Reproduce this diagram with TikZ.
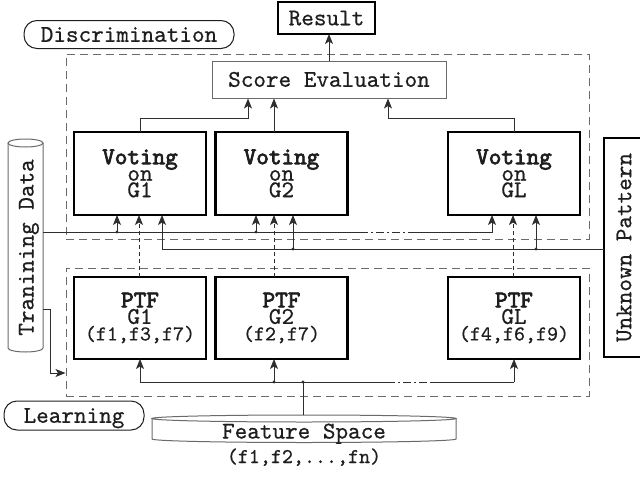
\documentclass[tikz,border=0pt]{standalone}
\usepackage{fontspec}
\setmainfont{lmmono10-regular.otf}[
  UprightFeatures={FakeBold=0.6},
  BoldFont=lmmono10-regular.otf,
  BoldFeatures={FakeBold=3}]
\usetikzlibrary{arrows.meta,calc}
\definecolor{ink}{HTML}{1E1E1E}
\definecolor{wiregray}{HTML}{2E2E2E}
\definecolor{framegray}{HTML}{6A6A6A}

\begin{document}
\begin{tikzpicture}[x=1pt,y=-1pt,
  every node/.style={text=ink},
  big/.style={font=\fontsize{24}{16.5}\selectfont},
  small/.style={font=\fontsize{21}{16.5}\selectfont},
  heavybox/.style={draw=black,line width=2.4pt,inner sep=0pt,outer sep=0pt,align=center,big},
  unitbox/.style={heavybox,minimum width=132pt,minimum height=83pt},
  oneline/.style={text height=14.5pt,text depth=0pt},
  tag/.style={draw=ink,line width=1pt,rounded corners=13pt,inner sep=0pt,big,oneline},
  region/.style={draw=framegray,line width=1pt,dash pattern=on 8pt off 5pt,inner sep=0pt},
  wire/.style={draw=wiregray,line width=1pt},
  arr/.style={wire,-{Stealth[length=10pt,width=8pt,inset=2.5pt]}},
  link/.style={arr,dash pattern=on 4pt off 3pt},
  skipline/.style={draw=wiregray,line width=1pt,dash pattern=on 8pt off 3pt on 2pt off 3pt},
  cyl/.style={draw=framegray,line width=1pt},
  joint/.style={fill=wiregray}]

\path[use as bounding box,clip] (0,0) rectangle (640,479);

% lanes (x) and rows (y) used by the connectors
\coordinate (l1) at (139,0);  \coordinate (l2) at (274,0);  \coordinate (l3) at (513,0);
\coordinate (e1) at (248,0);  \coordinate (e3) at (388,0);
\coordinate (t1) at (117,0);  \coordinate (t2) at (256,0);  \coordinate (t3) at (492,0);
\coordinate (u1) at (162,0);  \coordinate (u2) at (293,0);  \coordinate (u3) at (536,0);
\coordinate (gapA) at (360,0); \coordinate (gapB) at (412,0);
\coordinate (gapC) at (387,0); \coordinate (gapD) at (432,0);
\coordinate (xk) at (50,0);
\coordinate (rb) at (0,118);  \coordinate (tb) at (0,232);  \coordinate (ub) at (0,249);
\coordinate (fb) at (0,382);  \coordinate (tl1) at (0,309); \coordinate (tl2) at (0,373);
\coordinate (trainside) at (43,0);
\coordinate (feattop) at (303,415);

% dashed phase regions
\node[region,minimum width=523pt,minimum height=185pt] (discbox) at (327.5,146.5) {};
\node[region,minimum width=523pt,minimum height=128pt] (learnbox) at (327.5,332) {};

% phase tags
\node[tag,minimum width=210pt,minimum height=28pt] (disc) at (129,34.5) {Discrimination};
\node[tag,minimum width=140pt,minimum height=29pt] (learn) at (74,415.5) {Learning};

% result and score evaluation
\node[heavybox,oneline,minimum width=97pt,minimum height=32pt] (result) at (326.5,18) {Result};
\node[draw=framegray,line width=1pt,inner sep=0pt,big,oneline,
      minimum width=234pt,minimum height=37pt] (score) at (329,79.5) {Score Evaluation};

% voting units
\node[unitbox] (vg1) at (140,173.5)   {\textbf{Voting}\\on\\G1};
\node[unitbox] (vg2) at (281.5,173.5) {\textbf{Voting}\\on\\G2};
\node[unitbox] (vgl) at (514,173.5)   {\textbf{Voting}\\on\\GL};

% PTF units
\node[unitbox,minimum height=82pt] (ptf1) at (140,318)
  {\textbf{PTF}\\G1\\{\fontsize{21}{16.5}\selectfont (f1,f3,f7)}};
\node[unitbox,minimum height=82pt] (ptf2) at (281.5,318)
  {\textbf{PTF}\\G2\\{\fontsize{21}{16.5}\selectfont (f2,f7)}};
\node[unitbox,minimum height=82pt] (ptfl) at (514,318)
  {\textbf{PTF}\\GL\\{\fontsize{21}{16.5}\selectfont (f4,f6,f9)}};

% unknown pattern input
\node[heavybox,rotate=90,minimum width=219pt,minimum height=40pt] (unk) at (624,247.5) {Unknown Pattern};

% training data store (vertical cylinder)
\draw[cyl] (8,143) -- (8,348) arc[start angle=180,end angle=360,x radius=17.5pt,y radius=4pt] -- (43,143);
\draw[cyl] (25.5,143) ellipse [x radius=17.5pt,y radius=4pt];
\node[rotate=90,big,anchor=base] (train) at (33.5,247.5) {Tranining Data};

% feature space store (flat cylinder)
\draw[cyl] (152,418.5) -- (152,439) arc[start angle=180,end angle=360,x radius=152pt,y radius=3.5pt] -- (456,418.5);
\draw[cyl] (304,418.5) ellipse [x radius=152pt,y radius=3.5pt];
\node[big,anchor=base] (feat) at (304,438.5) {Feature Space};
\node[small,anchor=base] (featlist) at (304,463) {(f1,f2,...,fn)};

% voting -> score evaluation -> result
\draw[arr] (vg1.north) |- (e1 |- rb) -- (e1 |- score.south);
\draw[arr] (l2 |- vg2.north) -- (l2 |- score.south);
\draw[arr] (vgl.north) |- (e3 |- rb) -- (e3 |- score.south);
\draw[arr] (score.north) -- (score.north |- result.south);

% training data bus into the voting units
\draw[wire] (trainside |- tb) -- (gapA |- tb);
\path[skipline] (gapA |- tb) -- (gapB |- tb);
\draw[arr] (gapB |- tb) -| (t3 |- vgl.south);
\draw[arr] (t1 |- tb) -- (t1 |- vg1.south);
\draw[arr] (t2 |- tb) -- (t2 |- vg2.south);
\fill[joint] (t1 |- tb) circle[radius=1.6pt];
\fill[joint] (t2 |- tb) circle[radius=1.6pt];

% unknown pattern bus into the voting units
\draw[arr] (unk.north |- ub) -| (u1 |- vg1.south);
\draw[arr] (u2 |- ub) -- (u2 |- vg2.south);
\draw[arr] (u3 |- ub) -- (u3 |- vgl.south);
\fill[joint] (u2 |- ub) circle[radius=1.6pt];
\fill[joint] (u3 |- ub) circle[radius=1.6pt];

% PTF -> voting
\draw[link] (l1 |- ptf1.north) -- (l1 |- vg1.south);
\draw[link] (l2 |- ptf2.north) -- (l2 |- vg2.south);
\draw[link] (l3 |- ptfl.north) -- (l3 |- vgl.south);

% feature space bus into the PTF units
\draw[wire] (ptf1.south |- fb) -- (gapC |- fb);
\path[skipline] (gapC |- fb) -- (gapD |- fb);
\draw[wire] (gapD |- fb) -- (ptfl.south |- fb);
\draw[arr] (ptf1.south |- fb) -- (ptf1.south);
\draw[arr] (l2 |- fb) -- (l2 |- ptf2.south);
\draw[arr] (ptfl.south |- fb) -- (ptfl.south);
\draw[wire] (feattop) -- (feattop |- fb);
\fill[joint] (feattop |- fb) circle[radius=1.6pt];
\fill[joint] (l2 |- fb) circle[radius=1.6pt];

% training data -> learning
\draw[arr] (trainside |- tl1) -| (xk |- tl2) -- (learnbox.west |- tl2);

\end{tikzpicture}
\end{document}
